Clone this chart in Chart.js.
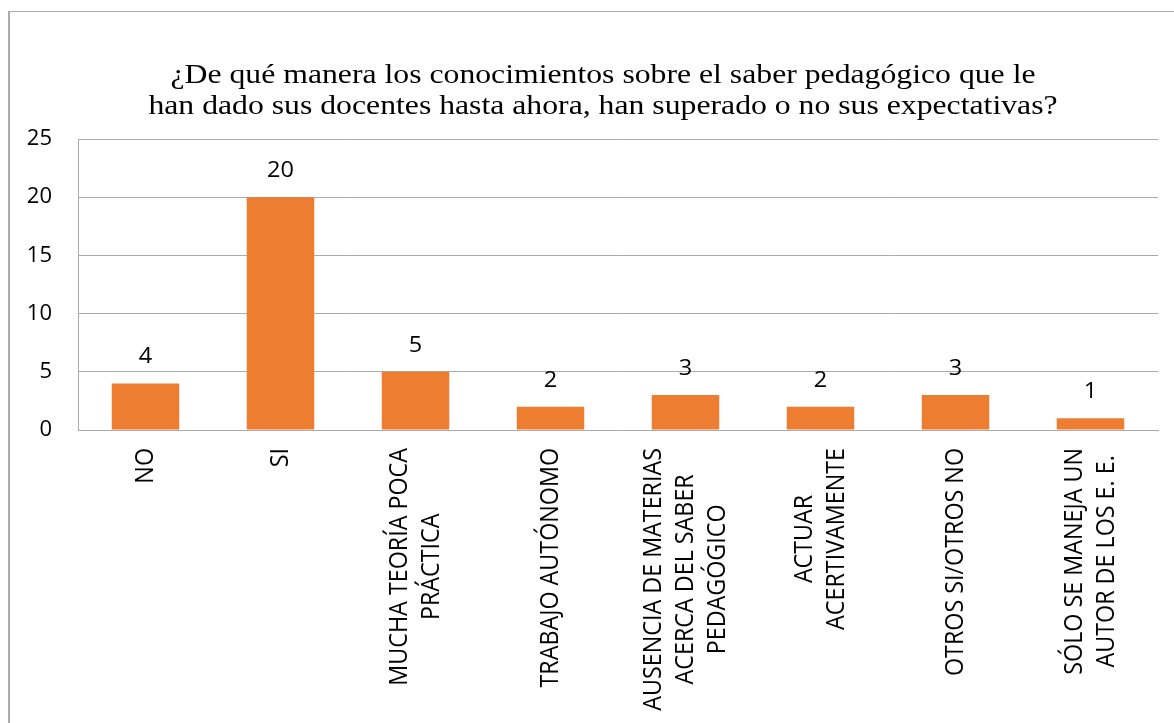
<!DOCTYPE html>
<html>
<head>
<meta charset="utf-8">
<script src="https://cdn.jsdelivr.net/npm/chart.js@4/dist/chart.umd.min.js"></script>
<style>
  html, body { margin: 0; padding: 0; background: #ffffff; overflow: hidden; }
  #frame { position: absolute; left: 8px; top: 11px; width: 1200px; height: 760px;
           border-left: 2px solid #ababab; border-top: 1px solid #ababab; box-sizing: border-box; }
  #c { position: absolute; left: 0; top: 0; z-index: 2; }
</style>
</head>
<body>
<div id="frame"></div>
<canvas id="c" width="1174" height="723"></canvas>
<script>
// ---- data ----
const titleLines = [
  "¿De qué manera los conocimientos sobre el saber pedagógico que le",
  "han dado sus docentes hasta ahora, han superado o no sus expectativas?"
];
const categories = [
  ["NO"],
  ["SI"],
  ["MUCHA TEORÍA POCA", "PRÁCTICA"],
  ["TRABAJO AUTÓNOMO"],
  ["AUSENCIA DE MATERIAS", "ACERCA DEL SABER", "PEDAGÓGICO"],
  ["ACTUAR", "ACERTIVAMENTE"],
  ["OTROS SI/OTROS NO"],
  ["SÓLO SE MANEJA UN", "AUTOR DE LOS E. E."]
];
const values = [4, 20, 5, 2, 3, 2, 3, 1];
const yMin = 0, yMax = 25, yStep = 5;

// ---- style ----
const BAR_COLOR = "#ED7D31";
const GRID_COLOR = "#ababab";
const SANS = "'Open Sans', 'DejaVu Sans', sans-serif";
const SERIF = "'Liberation Serif', 'Times New Roman', serif";

// Title, drawn with a slight horizontal stretch like the reference
const titlePlugin = {
  id: "stretchedTitle",
  afterDraw(chart) {
    const ctx = chart.ctx;
    ctx.save();
    ctx.font = "27px " + SERIF;
    ctx.fillStyle = "#000000";
    ctx.textAlign = "center";
    ctx.textBaseline = "alphabetic";
    const cx = 603, base = 83, lh = 30.5, sx = 1.175;
    titleLines.forEach((line, i) => {
      ctx.save();
      ctx.translate(cx, base + i * lh);
      ctx.scale(sx, 1);
      ctx.fillText(line, 0, 0);
      ctx.restore();
    });
    ctx.restore();
  }
};

const valueLabels = {
  id: "valueLabels",
  afterDatasetsDraw(chart) {
    const ctx = chart.ctx;
    const meta = chart.getDatasetMeta(0);
    ctx.save();
    ctx.font = "21px " + SANS;
    ctx.fillStyle = "#000000";
    ctx.textAlign = "center";
    ctx.textBaseline = "alphabetic";
    meta.data.forEach((bar, i) => {
      ctx.save();
      ctx.translate(bar.x, bar.y - 20);
      ctx.scale(1.12, 1);
      ctx.fillText(String(values[i]), 0, 0);
      ctx.restore();
    });
    ctx.restore();
  }
};

const categoryLabels = {
  id: "categoryLabels",
  afterDraw(chart) {
    const ctx = chart.ctx;
    const xs = chart.scales.x;
    const lh = 32, sx = 1.1;
    ctx.save();
    ctx.font = "23.3px " + SANS;
    ctx.fillStyle = "#000000";
    ctx.textAlign = "center";
    ctx.textBaseline = "middle";
    categories.forEach((lines, i) => {
      const x = xs.getPixelForValue(i);
      const maxW = Math.max(...lines.map(l => ctx.measureText(l).width));
      const yc = xs.top + 18 + maxW / 2;
      ctx.save();
      ctx.translate(x, yc);
      ctx.rotate(-Math.PI / 2);
      ctx.scale(1, sx);
      lines.forEach((line, j) => {
        ctx.fillText(line, 0, (j - (lines.length - 1) / 2) * lh / sx);
      });
      ctx.restore();
    });
    ctx.restore();
  }
};

new Chart(document.getElementById("c"), {
  type: "bar",
  data: {
    labels: categories,
    datasets: [{
      data: values,
      backgroundColor: BAR_COLOR,
      borderWidth: 0,
      categoryPercentage: 1.0,
      barPercentage: 0.5
    }]
  },
  options: {
    responsive: false,
    animation: false,
    devicePixelRatio: 1,
    layout: { padding: { left: 0, right: 16, top: 139, bottom: 0 } },
    plugins: {
      legend: { display: false },
      tooltip: { enabled: false },
      title: { display: false }
    },
    scales: {
      x: {
        grid: { display: false, drawTicks: false },
        border: { display: true, color: GRID_COLOR, width: 1 },
        ticks: { display: false },
        afterFit(scale) { scale.height = 293; }
      },
      y: {
        min: yMin, max: yMax,
        grid: { color: GRID_COLOR, lineWidth: 1, drawTicks: false },
        border: { display: true, color: GRID_COLOR, width: 1 },
        ticks: {
          stepSize: yStep,
          padding: 26,
          color: "#000000",
          font: { family: SANS, size: 22 }
        },
        afterFit(scale) { scale.width = 78; }
      }
    }
  },
  plugins: [titlePlugin, valueLabels, categoryLabels]
});
</script>
</body>
</html>
